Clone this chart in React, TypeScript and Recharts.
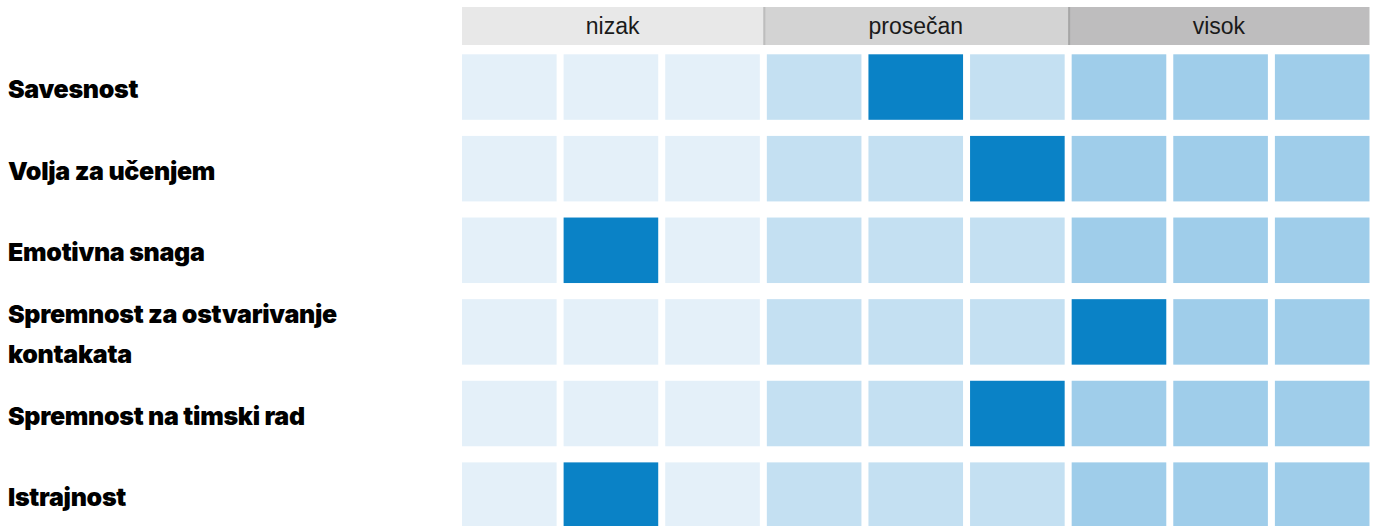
import { BarChart, Bar, XAxis, YAxis, Cell } from 'recharts';

const traits = [
  'Savesnost',
  'Volja za učenjem',
  'Emotivna snaga',
  'Spremnost za ostvarivanje kontakata',
  'Spremnost na timski rad',
  'Istrajnost',
];
const levels = ['nizak', 'prosečan', 'visok'];
const STEPS_PER_LEVEL = 3;
// which of the 9 steps (0-8) is marked for each trait
const scores = [4, 5, 1, 6, 5, 1];

const W = 1373;
const H = 536;
const VIEW_H = 526;
const LEFT = 458.5;
const GAP = 7;
const STEP_COUNT = levels.length * STEPS_PER_LEVEL;
const UNIT = (W - LEFT) / STEP_COUNT;

const levelFills = ['#e4f0f9', '#c4e0f2', '#9fcdea'];
const markFill = '#0a82c6';
const headFills = ['#e8e8e8', '#d3d3d3', '#bebdbe'];
const headEdges = ['#e8e8e8', '#bdbdbd', '#a6a6a6'];

const steps = Array.from({ length: STEP_COUNT }, (_, i) => i);
const levelTicks = levels.map((_, l) => l * STEPS_PER_LEVEL + STEPS_PER_LEVEL / 2);

const data = traits.map((trait) => {
  const row: Record<string, string | number> = { trait };
  steps.forEach((s) => {
    row[`s${s}`] = 1;
  });
  return row;
});

// inset each stacked segment so white gaps show between the cells
const CellShape = (props: any) => {
  const { x, y, width, height, fill } = props;
  return <rect x={x + GAP / 2} y={y} width={width - GAP} height={height} fill={fill} />;
};

const HeadTick = (props: any) => {
  const { x, payload } = props;
  const l = Math.floor(payload.value / STEPS_PER_LEVEL);
  let left = x - (STEPS_PER_LEVEL / 2) * UNIT;
  let right = x + (STEPS_PER_LEVEL / 2) * UNIT;
  if (l === 0) left += GAP / 2;
  if (l === levels.length - 1) right -= GAP / 2;
  return (
    <g>
      <rect x={left} y={7} width={right - left} height={38} fill={headFills[l]} />
      {l > 0 && <rect x={left} y={7} width={2} height={38} fill={headEdges[l]} />}
      <text
        x={(left + right) / 2}
        y={26}
        textAnchor="middle"
        dominantBaseline="central"
        fontFamily="'Liberation Sans', Arial, sans-serif"
        fontSize={23}
        fill="#1a1a1a"
      >
        {levels[l]}
      </text>
    </g>
  );
};

const wrap = (text: string, max: number) => {
  const lines: string[] = [];
  let cur = '';
  text.split(' ').forEach((w) => {
    const next = cur ? `${cur} ${w}` : w;
    if (next.length > max && cur) {
      lines.push(cur);
      cur = w;
    } else {
      cur = next;
    }
  });
  if (cur) lines.push(cur);
  return lines;
};

const TraitTick = (props: any) => {
  const { y, payload } = props;
  const lines = wrap(String(payload.value), 26);
  const lh = 40;
  const top = y - ((lines.length - 1) * lh) / 2;
  return (
    <text
      fontFamily="Inter, Roboto, sans-serif"
      fontWeight={900}
      fontSize={25}
      letterSpacing={-0.3}
      fill="#000"
    >
      {lines.map((line, i) => (
        <tspan key={i} x={8} y={top + i * lh + 2} dominantBaseline="central">
          {line}
        </tspan>
      ))}
    </text>
  );
};

export default function App() {
  return (
    <div style={{ position: 'absolute', left: 0, top: 0, width: W, height: VIEW_H, overflow: 'hidden', background: '#fff' }}>
      <BarChart
        width={W}
        height={H}
        data={data}
        layout="vertical"
        margin={{ top: 7, right: 0, bottom: 0, left: 0 }}
        barSize={65.5}
      >
        <XAxis
          type="number"
          orientation="top"
          domain={[0, STEP_COUNT]}
          ticks={levelTicks}
          height={39.3}
          axisLine={false}
          tickLine={false}
          tick={HeadTick}
        />
        <YAxis
          type="category"
          dataKey="trait"
          width={LEFT}
          axisLine={false}
          tickLine={false}
          interval={0}
          tick={TraitTick}
        />
        {steps.map((s) => (
          <Bar key={s} dataKey={`s${s}`} stackId="grid" shape={CellShape} isAnimationActive={false}>
            {data.map((_, i) => (
              <Cell
                key={i}
                fill={scores[i] === s ? markFill : levelFills[Math.floor(s / STEPS_PER_LEVEL)]}
              />
            ))}
          </Bar>
        ))}
      </BarChart>
    </div>
  );
}
